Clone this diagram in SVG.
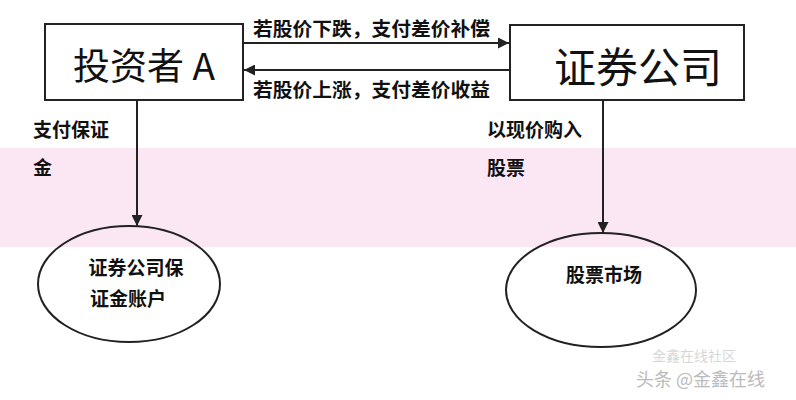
<svg xmlns="http://www.w3.org/2000/svg" width="796" height="400" viewBox="0 0 796 400">
<style>
.box{fill:#fff;stroke:#222;stroke-width:2}
.ell{fill:none;stroke:#222;stroke-width:2}
.big{font-family:"Noto Sans CJK SC","Liberation Serif",serif;fill:#111}
.lbl{font-family:"Noto Sans CJK SC","Liberation Sans",sans-serif;font-weight:bold;font-size:19px;fill:#111}
.ln{stroke:#222;stroke-width:2;fill:none}
.wm{font-family:"Noto Sans CJK SC",sans-serif;fill:#bbb}
</style>
<defs>
<marker id="ah2" viewBox="0 0 10 10" refX="10" refY="5" markerWidth="11" markerHeight="11" markerUnits="userSpaceOnUse" orient="auto"><path d="M0,0 L10,5 L0,10 z" fill="#222"/></marker>
</defs>
<rect width="796" height="400" fill="#fff"/>
<rect x="0" y="148" width="796" height="99" fill="#fbe6f4"/>
<g id="investor">
<rect class="box" x="45" y="24" width="198" height="76"/>
<text class="big" x="144" y="80" font-size="37" text-anchor="middle">投资者 A</text>
</g>
<g id="company">
<rect class="box" x="510" y="25" width="234" height="75"/>
<text class="big" x="638" y="83" font-size="42" text-anchor="middle">证券公司</text>
</g>
<g id="account">
<ellipse class="ell" cx="129" cy="284" rx="91" ry="58"/>
<text class="lbl" x="136" y="275" font-size="20" text-anchor="middle">证券公司保</text>
<text class="lbl" x="128" y="306" font-size="20" text-anchor="middle">证金账户</text>
</g>
<g id="market">
<ellipse class="ell" cx="601" cy="290" rx="95" ry="57"/>
<text class="lbl" x="604" y="282" font-size="20" text-anchor="middle">股票市场</text>
</g>
<g id="connectors">
<line class="ln" x1="243" y1="43" x2="509" y2="43" marker-end="url(#ah2)"/>
<line class="ln" x1="510" y1="70" x2="244" y2="70" marker-end="url(#ah2)"/>
<line class="ln" x1="137" y1="100" x2="137" y2="226" marker-end="url(#ah2)"/>
<line class="ln" x1="603" y1="100" x2="603" y2="233" marker-end="url(#ah2)"/>
<text class="lbl" x="253" y="36" textLength="237" lengthAdjust="spacingAndGlyphs">若股价下跌，支付差价补偿</text>
<text class="lbl" x="253" y="97" textLength="237" lengthAdjust="spacingAndGlyphs">若股价上涨，支付差价收益</text>
<text class="lbl" x="33" y="137">支付保证</text>
<text class="lbl" x="33" y="175">金</text>
<text class="lbl" x="487" y="137">以现价购入</text>
<text class="lbl" x="487" y="175">股票</text>
</g>
<text class="wm" x="652" y="361" font-size="14" fill-opacity="0.6">金鑫在线社区</text>
<text class="wm" x="636" y="386" font-size="18" fill="#999">头条 @金鑫在线</text>
</svg>
